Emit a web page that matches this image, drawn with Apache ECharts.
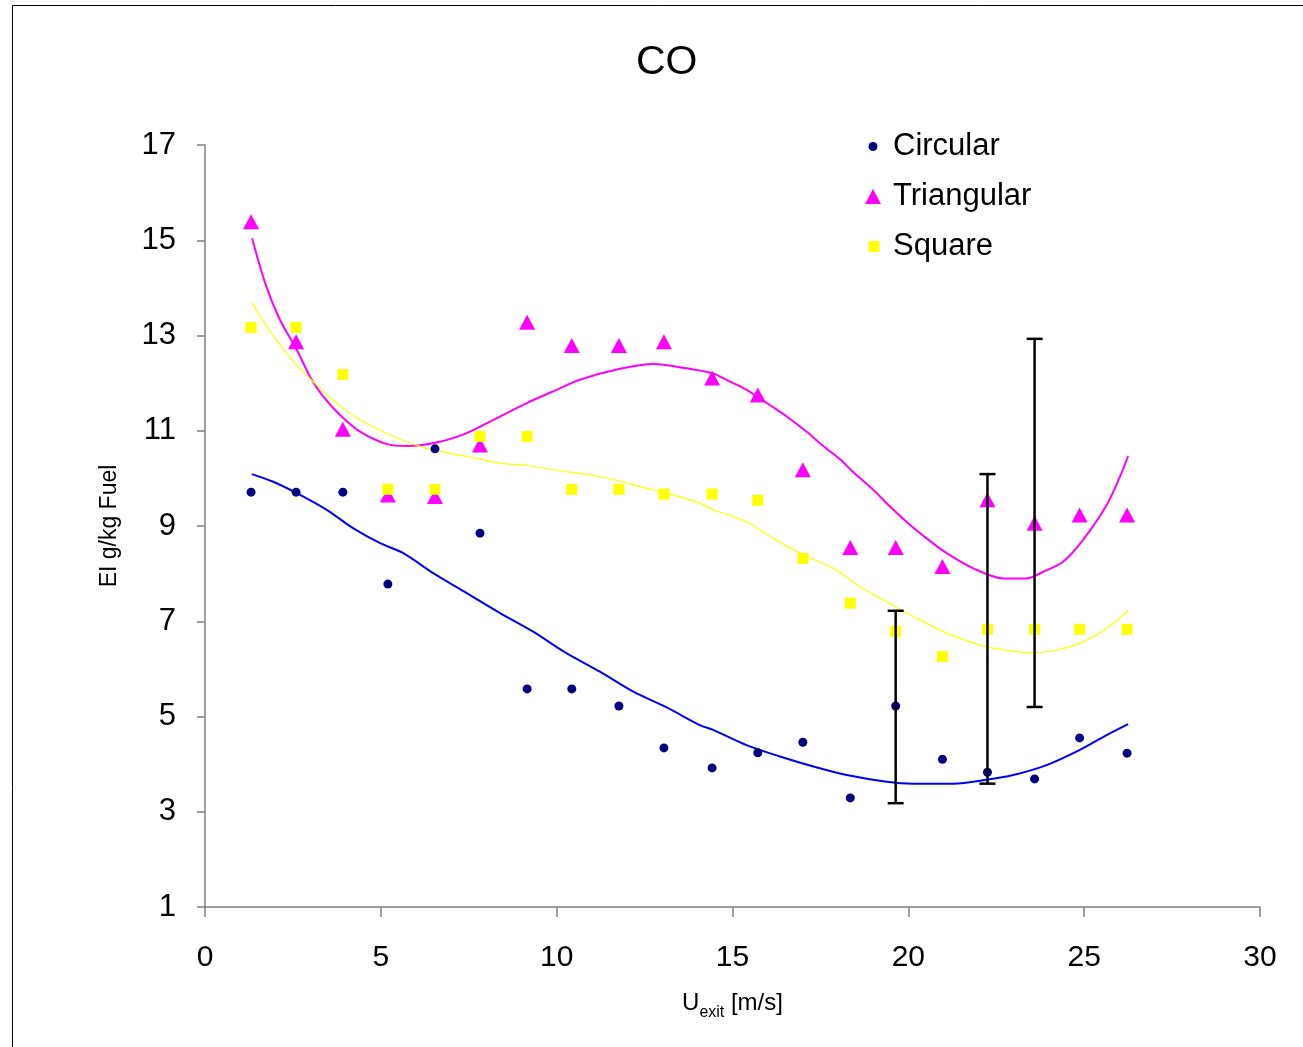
<!DOCTYPE html>
<html>
<head>
<meta charset="utf-8">
<script src="https://cdn.jsdelivr.net/npm/echarts@6/dist/echarts.min.js"></script>
<style>
html,body{margin:0;padding:0;background:#fff;}
#chart{width:1303px;height:1047px;}
</style>
</head>
<body>
<div id="chart"></div>
<script>
// ---- data ----
const uExit = [1.31, 2.59, 3.92, 5.20, 6.54, 7.82, 9.16, 10.43, 11.77, 13.05, 14.42, 15.72, 17.00, 18.35, 19.64, 20.97, 22.25, 23.59, 24.87, 26.22];
const circular   = [9.71, 9.71, 9.71, 7.78, 10.62, 8.85, 5.58, 5.58, 5.22, 4.34, 3.92, 4.24, 4.46, 3.29, 5.22, 4.10, 3.83, 3.69, 4.55, 4.23];
const triangular = [15.39, 12.87, 11.03, 9.65, 9.62, 10.70, 13.28, 12.79, 12.79, 12.87, 12.11, 11.75, 10.18, 8.55, 8.55, 8.15, 9.55, 9.06, 9.23, 9.23];
const square     = [13.17, 13.17, 12.18, 9.77, 9.77, 10.88, 10.88, 9.77, 9.77, 9.67, 9.67, 9.54, 8.32, 7.38, 6.79, 6.26, 6.83, 6.83, 6.83, 6.83];

// trend curves
const circFitX = [1.33, 1.94, 2.61, 3.46, 4.22, 4.98, 5.64, 6.49, 7.44, 8.39, 9.33, 10.28, 11.23, 12.18, 13.13, 14.07, 14.45, 15.40, 16.35, 17.30, 18.25, 19.38, 20.14, 21.28, 22.22, 22.98, 23.93, 24.88, 25.64, 26.25];
const circFitY = [10.09, 9.93, 9.69, 9.34, 8.95, 8.64, 8.43, 8.01, 7.59, 7.17, 6.78, 6.33, 5.94, 5.52, 5.19, 4.82, 4.72, 4.40, 4.16, 3.95, 3.77, 3.63, 3.59, 3.59, 3.67, 3.77, 3.98, 4.30, 4.61, 4.84];
const triFitX = [1.34, 1.71, 2.13, 2.61, 2.99, 3.36, 3.84, 4.41, 5.17, 5.78, 6.68, 7.44, 8.20, 9.15, 10.00, 10.66, 11.80, 12.75, 13.70, 14.42, 14.93, 15.40, 16.06, 16.54, 17.11, 17.58, 18.06, 18.39, 19.00, 19.48, 20.05, 20.52, 21.09, 21.85, 22.70, 23.36, 23.84, 24.40, 24.97, 25.64, 26.02, 26.25];
const triFitY = [15.04, 14.10, 13.33, 12.70, 12.13, 11.72, 11.33, 10.98, 10.72, 10.68, 10.77, 10.95, 11.23, 11.58, 11.86, 12.07, 12.30, 12.40, 12.31, 12.21, 12.03, 11.86, 11.54, 11.30, 10.98, 10.68, 10.40, 10.16, 9.76, 9.41, 9.02, 8.74, 8.43, 8.11, 7.90, 7.90, 8.04, 8.25, 8.71, 9.44, 10.04, 10.47];
const sqFitX = [1.34, 1.75, 2.32, 2.70, 3.18, 3.74, 4.41, 5.26, 6.30, 7.44, 8.39, 9.15, 10.28, 11.23, 11.80, 12.46, 13.13, 14.07, 14.45, 15.40, 16.16, 17.11, 17.87, 18.62, 19.38, 20.14, 21.09, 22.04, 22.60, 23.46, 24.12, 24.88, 25.64, 26.25];
const sqFitY = [13.69, 13.19, 12.63, 12.31, 11.96, 11.58, 11.23, 10.91, 10.63, 10.46, 10.32, 10.27, 10.14, 10.04, 9.94, 9.81, 9.69, 9.48, 9.34, 9.09, 8.74, 8.36, 8.11, 7.73, 7.41, 7.10, 6.75, 6.50, 6.41, 6.34, 6.38, 6.54, 6.85, 7.22];

// error bars
const errX    = [19.64, 22.25, 23.59];
const errLow  = [3.18, 3.59, 5.20];
const errHigh = [7.22, 10.09, 12.93];

const xTicks = {min: 0, max: 30, step: 5};
const yTicks = {min: 1, max: 17, step: 2};

const zip = (xs, ys) => xs.map((x, i) => [x, ys[i]]);
const FONT = "'Liberation Sans', Arial, sans-serif";

const chart = echarts.init(document.getElementById('chart'), null, {renderer: 'canvas'});

const option = {
  backgroundColor: '#ffffff',
  animation: false,
  title: {
    text: 'CO',
    left: 631, top: 37,
    textStyle: {fontFamily: FONT, fontSize: 41, fontWeight: 'normal', color: '#000'}
  },
  graphic: [{
    type: 'rect', silent: true,
    shape: {x: 12.5, y: 5.5, width: 1400, height: 1100},
    style: {fill: 'none', stroke: '#000', lineWidth: 1}
  }],
  legend: [
    {data: ['Circular'], orient: 'vertical', left: 868.5, top: 131, padding: 0, itemWidth: 9, itemHeight: 9,
     icon: 'circle', textStyle: {fontFamily: FONT, fontSize: 31, color: '#000', padding: [0, 0, 0, 10.5]}},
    {data: ['Triangular'], orient: 'vertical', left: 865, top: 181, padding: 0, itemWidth: 16, itemHeight: 15,
     icon: 'triangle', textStyle: {fontFamily: FONT, fontSize: 31, color: '#000', padding: [0, 0, 0, 7]}},
    {data: ['Square'], orient: 'vertical', left: 868.5, top: 231, padding: 0, itemWidth: 11, itemHeight: 11,
     icon: 'rect', textStyle: {fontFamily: FONT, fontSize: 31, color: '#000', padding: [0, 0, 0, 8.5]}}
  ],
  grid: {left: 205, right: 43, top: 145, bottom: 140, containLabel: false},
  xAxis: {
    type: 'value', min: xTicks.min, max: xTicks.max, interval: xTicks.step,
    name: '{a|U}{b|exit}{a| [m/s]}',
    nameLocation: 'middle', nameGap: 84,
    nameTextStyle: {rich: {
      a: {fontFamily: FONT, fontSize: 24, color: '#000', verticalAlign: 'bottom'},
      b: {fontFamily: FONT, fontSize: 16, color: '#000', verticalAlign: 'bottom', padding: [0, 0, -6, 0]}
    }},
    axisLine: {show: true, onZero: false, lineStyle: {color: '#808080', width: 1.5}},
    axisTick: {show: true, inside: false, length: 10, lineStyle: {color: '#808080', width: 1.5}},
    axisLabel: {fontFamily: FONT, fontSize: 30, color: '#000', margin: 36},
    splitLine: {show: false}
  },
  yAxis: {
    type: 'value', min: yTicks.min, max: yTicks.max, interval: yTicks.step,
    name: 'EI g/kg Fuel',
    nameLocation: 'middle', nameGap: 84, nameRotate: 90,
    nameTextStyle: {fontFamily: FONT, fontSize: 23, color: '#000'},
    axisLine: {show: true, onZero: false, lineStyle: {color: '#808080', width: 1.5}},
    axisTick: {show: true, inside: false, length: 8, lineStyle: {color: '#808080', width: 1.5}},
    axisLabel: {fontFamily: FONT, fontSize: 31, color: '#000', margin: 29},
    splitLine: {show: false}
  },
  series: [
    {name: 'CircFit', type: 'line', data: zip(circFitX, circFitY), showSymbol: false, smooth: 0.3,
     lineStyle: {color: '#0000FF', width: 2}, itemStyle: {color: '#0000FF'}, silent: true, z: 2},
    {name: 'TriFit', type: 'line', data: zip(triFitX, triFitY), showSymbol: false, smooth: 0.3,
     lineStyle: {color: '#FF00FF', width: 2}, itemStyle: {color: '#FF00FF'}, silent: true, z: 2},
    {name: 'SqFit', type: 'line', data: zip(sqFitX, sqFitY), showSymbol: false, smooth: 0.3,
     lineStyle: {color: '#FFFF00', width: 1.2}, itemStyle: {color: '#FFFF00'}, silent: true, z: 2},
    {name: 'Circular', type: 'scatter', data: zip(uExit, circular), symbol: 'circle', symbolSize: 9,
     itemStyle: {color: '#000080', opacity: 1}, z: 3},
    {name: 'Triangular', type: 'scatter', data: zip(uExit, triangular), symbol: 'triangle', symbolSize: [16, 15],
     itemStyle: {color: '#FF00FF', opacity: 1}, z: 3},
    {name: 'Square', type: 'scatter', data: zip(uExit, square), symbol: 'rect', symbolSize: 11,
     itemStyle: {color: '#FFFF00', opacity: 1}, z: 4},
    {name: 'Error', type: 'custom', silent: true, z: 5,
     data: errX.map((x, i) => [x, errLow[i], errHigh[i]]),
     encode: {x: 0, y: [1, 2]},
     renderItem: function (params, api) {
       const x = api.value(0);
       const lo = api.coord([x, api.value(1)]);
       const hi = api.coord([x, api.value(2)]);
       const hw = 8;
       const st = {stroke: '#000', lineWidth: 2.5, fill: null};
       return {type: 'group', children: [
         {type: 'line', shape: {x1: lo[0], y1: lo[1], x2: hi[0], y2: hi[1]}, style: st},
         {type: 'line', shape: {x1: hi[0] - hw, y1: hi[1], x2: hi[0] + hw, y2: hi[1]}, style: st},
         {type: 'line', shape: {x1: lo[0] - hw, y1: lo[1], x2: lo[0] + hw, y2: lo[1]}, style: st}
       ]};
     }}
  ]
};
chart.setOption(option);
</script>
</body>
</html>
